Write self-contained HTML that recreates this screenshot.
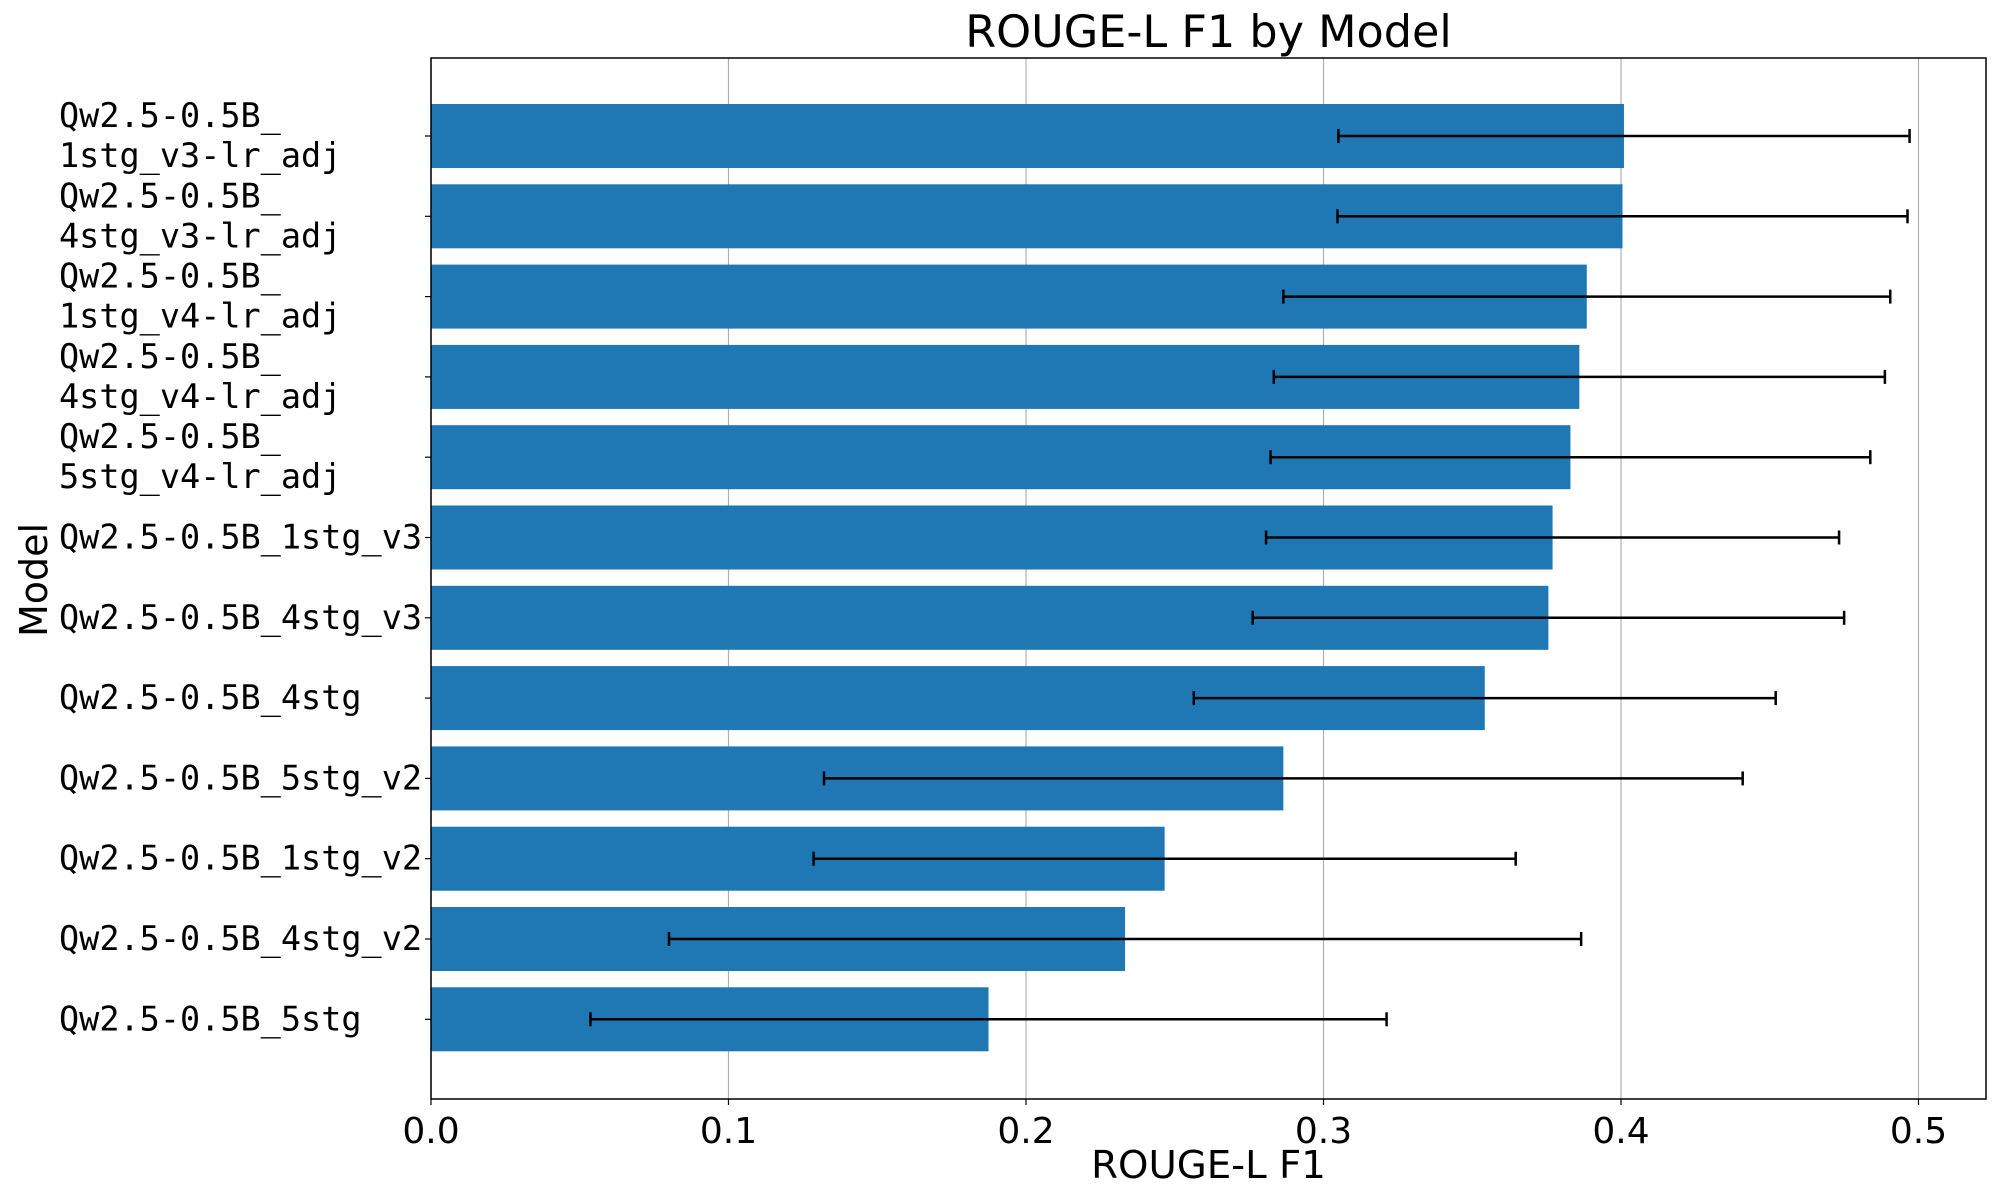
<!DOCTYPE html>
<html><head><meta charset="utf-8"><style>html,body{margin:0;padding:0;background:#fff}svg{display:block}</style></head>
<body>
<svg id="chart" width="2000" height="1200" xmlns="http://www.w3.org/2000/svg"></svg>
<script>
const categories = ["Qw2.5-0.5B_\n1stg_v3-lr_adj","Qw2.5-0.5B_\n4stg_v3-lr_adj","Qw2.5-0.5B_\n1stg_v4-lr_adj","Qw2.5-0.5B_\n4stg_v4-lr_adj","Qw2.5-0.5B_\n5stg_v4-lr_adj","Qw2.5-0.5B_1stg_v3","Qw2.5-0.5B_4stg_v3","Qw2.5-0.5B_4stg","Qw2.5-0.5B_5stg_v2","Qw2.5-0.5B_1stg_v2","Qw2.5-0.5B_4stg_v2","Qw2.5-0.5B_5stg"];
const values = [0.401,0.4005,0.3885,0.386,0.383,0.377,0.3756,0.3542,0.2865,0.2466,0.2333,0.1874];
const errors = [0.096,0.0958,0.102,0.1027,0.1008,0.0963,0.0994,0.0978,0.1544,0.118,0.1533,0.1338];
const xTicks = [0,0.1,0.2,0.3,0.4,0.5];
const xTickLabels = ["0.0","0.1","0.2","0.3","0.4","0.5"];

const L=431,R=1986,T=58,B=1099;
const X=v=>L+v*2975;
const Y=i=>136+i*80.3;
const bh=64;
const svg=document.getElementById('chart');
const NS='http://www.w3.org/2000/svg';
function mk(tag,attrs,parent){const e=document.createElementNS(NS,tag);for(const k in attrs)e.setAttribute(k,attrs[k]);(parent||svg).appendChild(e);return e;}

xTicks.forEach((t,i)=>{
  const g=mk('line',{x1:X(t),x2:X(t),y1:T,y2:B,stroke:'#b0b0b0','stroke-width':1.2});
  
  
  const tk=mk('line',{x1:X(t),x2:X(t),y1:B,y2:B+6,stroke:'#000','stroke-width':1.2});
  
  
  const tx=mk('text',{x:X(t),y:B+44,'text-anchor':'middle','font-family':'DejaVu Sans, Liberation Sans, sans-serif','font-size':36});
  tx.textContent=xTickLabels[i];
  
  
});

categories.forEach((c,i)=>{
  const cy=Y(i);
  const r=mk('rect',{x:X(0),y:cy-bh/2,width:X(values[i])-X(0),height:bh,fill:'#1f77b4'});
  
  
  const lo=X(values[i]-errors[i]),hi=X(values[i]+errors[i]);
  const eg=mk('g',{stroke:'#000','stroke-width':2.5});
  
  
  mk('line',{x1:lo,x2:hi,y1:cy,y2:cy},eg);
  mk('line',{x1:lo,x2:lo,y1:cy-7,y2:cy+7},eg);
  mk('line',{x1:hi,x2:hi,y1:cy-7,y2:cy+7},eg);
  const tk=mk('line',{x1:L-6,x2:L,y1:cy,y2:cy,stroke:'#000','stroke-width':1.2});
  
  
  const lines=c.split('\n');
  const tx=mk('text',{x:59,'font-family':'DejaVu Sans Mono, Liberation Mono, monospace','font-size':33.5});
  
  
  lines.forEach((ln,j)=>{
    const off=lines.length===1?0:(j===0?-20:20);
    const ts=mk('tspan',{x:59,y:cy+off+11},tx);
    ts.textContent=ln;
  });
});

const frame=mk('rect',{x:L,y:T,width:R-L,height:B-T,fill:'none',stroke:'#000','stroke-width':1.5});



const title=mk('text',{x:(L+R)/2,y:47,'text-anchor':'middle','font-family':'DejaVu Sans, Liberation Sans, sans-serif','font-size':44.5});
title.textContent='ROUGE-L F1 by Model';


const xl=mk('text',{x:(L+R)/2,y:1178,'text-anchor':'middle','font-family':'DejaVu Sans, Liberation Sans, sans-serif','font-size':38.7});
xl.textContent='ROUGE-L F1';


const yl=mk('text',{x:0,y:0,'text-anchor':'middle','font-family':'DejaVu Sans, Liberation Sans, sans-serif','font-size':38,transform:'translate(47,580) rotate(-90)'});
yl.textContent='Model';


</script>
</body></html>
